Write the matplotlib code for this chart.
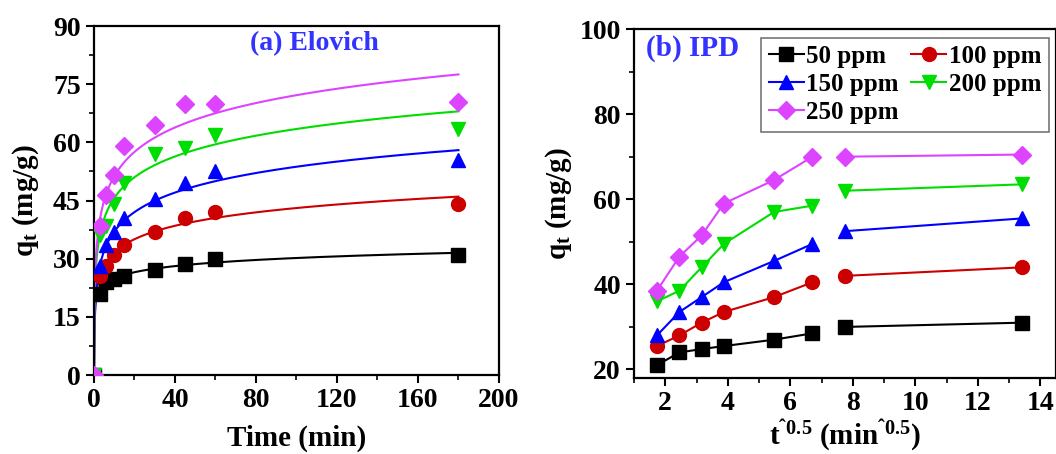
import numpy as np
import matplotlib
matplotlib.use('Agg')
import matplotlib.pyplot as plt
from matplotlib.ticker import MultipleLocator

plt.rcParams['font.family'] = ['Liberation Serif', 'DejaVu Serif']
plt.rcParams['font.weight'] = 'bold'
plt.rcParams['mathtext.fontset'] = 'custom'
plt.rcParams['mathtext.rm'] = 'Liberation Serif:bold'
plt.rcParams['mathtext.it'] = 'Liberation Serif:bold'
plt.rcParams['mathtext.bf'] = 'Liberation Serif:bold'

# data
time_min = [3, 6, 10, 15, 30, 45, 60, 180]
labels = ['50 ppm', '100 ppm', '150 ppm', '200 ppm', '250 ppm']
q_50 = [21.0, 24.0, 24.8, 25.5, 27.0, 28.5, 30.0, 31.0]
q_100 = [25.5, 28.0, 31.0, 33.5, 37.0, 40.5, 42.0, 44.0]
q_150 = [28.0, 33.5, 37.0, 40.5, 45.5, 49.5, 52.5, 55.5]
q_200 = [36.0, 38.5, 44.0, 49.5, 57.0, 58.5, 62.0, 63.5]
q_250 = [38.5, 46.5, 51.5, 59.0, 64.5, 70.0, 70.0, 70.5]
series = [q_50, q_100, q_150, q_200, q_250]

# Elovich fit parameters: q = (1/b) ln(1 + a*b*t)
elovich_inv_b = [2.28, 5.0, 7.28, 7.74, 9.1]
elovich_ab = [5600, 55, 16, 36.3, 27.8]

colors = ['#000000', '#cc0000', '#0000ff', '#00dd00', '#dd44ff']
markers = ['s', 'o', '^', 'v', 'D']
msizes = [10, 10, 10, 10, 9]

fig = plt.figure(figsize=(10.56, 4.54), dpi=100)
ax1 = fig.add_axes([0.089, 0.174, 0.3835, 0.7687])
ax2 = fig.add_axes([0.6004, 0.1674, 0.3996, 0.7687])

t_fit = np.linspace(0, 180, 1000)
t_pts = [0] + time_min
for i, q in enumerate(series):
    q_fit = elovich_inv_b[i] * np.log(1 + elovich_ab[i] * t_fit)
    ax1.plot(t_fit, q_fit, color=colors[i], lw=1.5)
    ax1.plot(t_pts, [0] + q, ls='none', marker=markers[i], ms=msizes[i],
             color=colors[i], zorder=3)

sq = np.sqrt(time_min)
handles = []
for i, q in enumerate(series):
    h, = ax2.plot(sq[:6], q[:6], color=colors[i], lw=1.5, marker=markers[i],
                  ms=msizes[i], label=labels[i])
    ax2.plot(sq[6:], q[6:], color=colors[i], lw=1.5, marker=markers[i], ms=msizes[i])
    handles.append(h)

ax1.set_xlim(0, 200)
ax1.set_ylim(0, 90)
ax1.xaxis.set_major_locator(MultipleLocator(40))
ax1.xaxis.set_minor_locator(MultipleLocator(20))
ax1.yaxis.set_major_locator(MultipleLocator(15))
ax1.yaxis.set_minor_locator(MultipleLocator(7.5))
ax1.set_xlabel('Time (min)', fontsize=21, fontweight='bold', labelpad=8)
ax1.set_ylabel('q$_\\mathregular{t}$ (mg/g)', fontsize=21, fontweight='bold', labelpad=9)
ax1.text(0.385, 0.951, '(a) Elovich', transform=ax1.transAxes, color='#3333ff',
         fontsize=20, fontweight='bold', va='center', ha='left')

ax2.set_xlim(1, 14.5)
ax2.set_ylim(18, 100)
ax2.xaxis.set_major_locator(MultipleLocator(2))
ax2.xaxis.set_minor_locator(MultipleLocator(1))
ax2.yaxis.set_major_locator(MultipleLocator(20))
ax2.yaxis.set_minor_locator(MultipleLocator(10))
ax2.set_xlabel('t$^{\u02c60.5}$ (min$^{\u02c60.5}$)', fontsize=21, fontweight='bold', labelpad=1)
ax2.set_ylabel('q$_\\mathregular{t}$ (mg/g)', fontsize=21, fontweight='bold', labelpad=4)
ax2.text(0.028, 0.946, '(b) IPD', transform=ax2.transAxes, color='#3333ff',
         fontsize=21, fontweight='bold', va='center', ha='left')

order = [0, 2, 4, 1, 3]
leg = ax2.legend([handles[k] for k in order], [labels[k] for k in order], ncol=2,
                 loc='upper right', bbox_to_anchor=(0.995, 0.99), fancybox=False,
                 frameon=True, prop={'size': 18, 'weight': 'bold'}, handlelength=1.4,
                 handletextpad=0.1, columnspacing=0.5, labelspacing=0.2,
                 borderpad=0.3, borderaxespad=0.2)
leg.get_frame().set_edgecolor('#555555')
leg.get_frame().set_linewidth(1.2)

for ax in (ax1, ax2):
    for s in ax.spines.values():
        s.set_linewidth(1.6)
    ax.tick_params(which='major', direction='out', length=6, width=1.5, labelsize=20)
    ax.tick_params(which='minor', direction='out', length=3.5, width=1.2)
    for lab in ax.get_xticklabels() + ax.get_yticklabels():
        lab.set_fontweight('bold')

fig.savefig('out.png', dpi=100)
